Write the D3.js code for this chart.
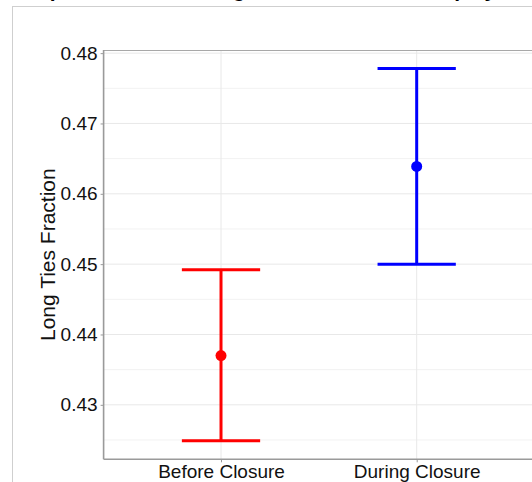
<!DOCTYPE html>
<html>
<head>
<meta charset="utf-8">
<script src="https://cdn.jsdelivr.net/npm/d3@7"></script>
<style>
  html, body { margin: 0; padding: 0; background: #fff; overflow: hidden; }
  svg { display: block; font-family: "Liberation Sans", Arial, Helvetica, sans-serif; }
</style>
</head>
<body>
<svg id="chart" width="532" height="482"></svg>
<script>
const categories = ['Before Closure', 'During Closure'];
const means = [0.4370, 0.4639];
const lower = [0.4249, 0.4500];
const upper = [0.4492, 0.4778];
const yTicks = [0.43, 0.44, 0.45, 0.46, 0.47, 0.48];
const yMinor = [0.425, 0.435, 0.445, 0.455, 0.465, 0.475];

const W = 532, H = 482;
const panel = { left: 103.6, right: 534.1, top: 50, bottom: 459.3 };

const svg = d3.select('#chart');

// outer frame (only top/left visible in the window)
svg.append('rect')
  .attr('x', 12.5).attr('y', 6.5)
  .attr('width', 600).attr('height', 600)
  .attr('fill', 'none').attr('stroke', '#cfcfcf').attr('stroke-width', 1);

// title, mostly cropped above the window
svg.append('text')
  .attr('x', 3).attr('y', -3.5)
  .attr('font-size', '21px').attr('font-weight', 'bold').attr('fill', '#000')
  .text('Comparison of the Long Ties Fraction for Display');

const x = d3.scalePoint()
  .domain(categories)
  .range([panel.left, panel.right])
  .padding(0.6);

// ggplot style 5% expansion
const lo = d3.min(lower), hi = d3.max(upper);
const pad = (hi - lo) * 0.05;
const y = d3.scaleLinear()
  .domain([lo - pad, hi + pad])
  .range([panel.bottom, panel.top]);

const color = d3.scaleOrdinal().domain(categories).range(['#ff0000', '#0000ff']);

const g = svg.append('g');

// grid
g.selectAll('line.minor').data(yMinor).join('line')
  .attr('class', 'minor')
  .attr('x1', panel.left).attr('x2', panel.right)
  .attr('y1', d => y(d)).attr('y2', d => y(d))
  .attr('stroke', '#f2f2f2').attr('stroke-width', 1);

g.selectAll('line.majorY').data(yTicks).join('line')
  .attr('class', 'majorY')
  .attr('x1', panel.left).attr('x2', panel.right)
  .attr('y1', d => y(d)).attr('y2', d => y(d))
  .attr('stroke', '#e8e8e8').attr('stroke-width', 1);

g.selectAll('line.majorX').data(categories).join('line')
  .attr('class', 'majorX')
  .attr('x1', d => x(d)).attr('x2', d => x(d))
  .attr('y1', panel.top).attr('y2', panel.bottom)
  .attr('stroke', '#e8e8e8').attr('stroke-width', 1);

// panel top border
g.append('line')
  .attr('x1', panel.left).attr('x2', panel.right)
  .attr('y1', panel.top + 0.5).attr('y2', panel.top + 0.5)
  .attr('stroke', '#a8a8a8').attr('stroke-width', 1);

// axes
const yAxis = svg.append('g')
  .attr('transform', `translate(${panel.left},0)`)
  .call(d3.axisLeft(y).tickValues(yTicks).tickFormat(d3.format('.2f')).tickSize(3).tickPadding(3));
const xAxis = svg.append('g')
  .attr('transform', `translate(0,${panel.bottom})`)
  .call(d3.axisBottom(x).tickSize(3).tickPadding(2));

[yAxis, xAxis].forEach(a => {
  a.select('.domain').attr('stroke', '#9a9a9a').attr('stroke-width', 1.6);
  a.selectAll('.tick line').attr('stroke', '#9a9a9a');
  a.selectAll('.tick text').attr('font-size', '19px').attr('fill', '#111')
    .attr('font-family', '"Liberation Sans", Arial, Helvetica, sans-serif');
});
yAxis.select('.domain').attr('d', `M0,${panel.top}V${panel.bottom}`);
xAxis.select('.domain').attr('d', `M${panel.left},0H${panel.right}`);

// y axis title
svg.append('text')
  .attr('transform', `translate(55,${(panel.top + panel.bottom) / 2}) rotate(-90)`)
  .attr('text-anchor', 'middle')
  .attr('font-size', '21px').attr('fill', '#111')
  .text('Long Ties Fraction');

// error bars
const step = x.step();
const capHalf = step * 0.2;
const bars = svg.append('g').selectAll('g').data(categories).join('g');

bars.append('line')
  .attr('x1', d => x(d)).attr('x2', d => x(d))
  .attr('y1', (d, i) => y(lower[i])).attr('y2', (d, i) => y(upper[i]))
  .attr('stroke', d => color(d)).attr('stroke-width', 3);

bars.append('line')
  .attr('x1', d => x(d) - capHalf).attr('x2', d => x(d) + capHalf)
  .attr('y1', (d, i) => y(upper[i])).attr('y2', (d, i) => y(upper[i]))
  .attr('stroke', d => color(d)).attr('stroke-width', 3);

bars.append('line')
  .attr('x1', d => x(d) - capHalf).attr('x2', d => x(d) + capHalf)
  .attr('y1', (d, i) => y(lower[i])).attr('y2', (d, i) => y(lower[i]))
  .attr('stroke', d => color(d)).attr('stroke-width', 3);

bars.append('circle')
  .attr('cx', d => x(d))
  .attr('cy', (d, i) => y(means[i]))
  .attr('r', 5.5)
  .attr('fill', d => color(d));
</script>
</body>
</html>
